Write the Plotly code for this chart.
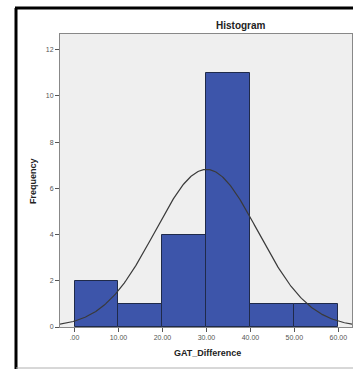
import numpy as np
import plotly.graph_objects as go

# Histogram bins of GAT_Difference and their counts
bin_edges = [0, 10, 20, 30, 40, 50, 60]
counts = [2, 1, 4, 11, 1, 1]
tick_vals = [0, 10, 20, 30, 40, 50, 60]
tick_text = [".00", "10.00", "20.00", "30.00", "40.00", "50.00", "60.00"]
y_ticks = [0, 2, 4, 6, 8, 10, 12]

# Normal curve parameters (fitted mean / std. deviation)
mean_val = 30.0
sd_val = 11.7

W, H = 353, 369
L, R, T, B = 60, 1, 34, 42
pw, ph = W - L - R, H - T - B

centers = [(a + b) / 2 for a, b in zip(bin_edges[:-1], bin_edges[1:])]
widths = [b - a for a, b in zip(bin_edges[:-1], bin_edges[1:])]
n_total = sum(counts)
bw = widths[0]

xs = np.linspace(-3.4, 63.2, 300)
ys = n_total * bw / (sd_val * np.sqrt(2 * np.pi)) * np.exp(-0.5 * ((xs - mean_val) / sd_val) ** 2)

fig = go.Figure()
fig.add_trace(go.Bar(
    x=centers, y=counts, width=widths,
    marker=dict(color="#3d55aa", line=dict(color="#1f2a4a", width=1)),
    hoverinfo="x+y",
))
fig.add_trace(go.Scatter(
    x=xs, y=ys, mode="lines",
    line=dict(color="#3a3a3a", width=1.2),
    hoverinfo="skip",
))

def px_x(p):
    return (p - L) / pw

def px_y(p):
    return 1 - (p - T) / ph

shapes = [
    # outer frame
    dict(type="line", xref="paper", yref="paper", x0=px_x(16), x1=px_x(16), y0=px_y(8), y1=px_y(369), line=dict(color="black", width=3)),
    dict(type="line", xref="paper", yref="paper", x0=px_x(15), x1=px_x(353), y0=px_y(8), y1=px_y(8), line=dict(color="black", width=3)),
    dict(type="line", xref="paper", yref="paper", x0=px_x(16), x1=px_x(353), y0=px_y(368), y1=px_y(368), line=dict(color="#b0b0b0", width=1)),
]

fig.update_layout(
    width=W, height=H,
    margin=dict(l=L, r=R, t=T, b=B),
    paper_bgcolor="white",
    plot_bgcolor="#efefef",
    showlegend=False,
    bargap=0,
    shapes=shapes,
    font=dict(family="Liberation Sans, Arial, sans-serif", color="#555555"),
    annotations=[
        dict(text="<b>Histogram</b>", xref="paper", yref="paper", x=px_x(241), y=px_y(25.5),
             showarrow=False, xanchor="center", yanchor="middle",
             font=dict(size=10, color="#222222")),
        dict(text="<b>Frequency</b>", xref="paper", yref="paper", x=px_x(33), y=px_y(181),
             showarrow=False, textangle=-90, xanchor="center", yanchor="middle",
             font=dict(size=9, color="#222222")),
        dict(text="<b>GAT_Difference</b>", xref="paper", yref="paper", x=px_x(207), y=px_y(353),
             showarrow=False, xanchor="center", yanchor="middle",
             font=dict(size=9, color="#222222")),
    ],
)
fig.update_xaxes(
    range=[-3.3, 63.1], tickvals=tick_vals, ticktext=tick_text,
    ticks="outside", ticklen=4, tickcolor="#555555",
    tickfont=dict(size=7, color="#555555"),
    showgrid=False, zeroline=False,
    showline=True, linecolor="#888888", linewidth=1, mirror=True,
)
fig.update_yaxes(
    range=[0, 12.68], tickvals=y_ticks,
    ticks="outside", ticklen=4, tickcolor="#555555",
    tickfont=dict(size=7, color="#555555"),
    showgrid=False, zeroline=False,
    showline=True, linecolor="#888888", linewidth=1, mirror=True,
)

fig.write_html("out.html")
